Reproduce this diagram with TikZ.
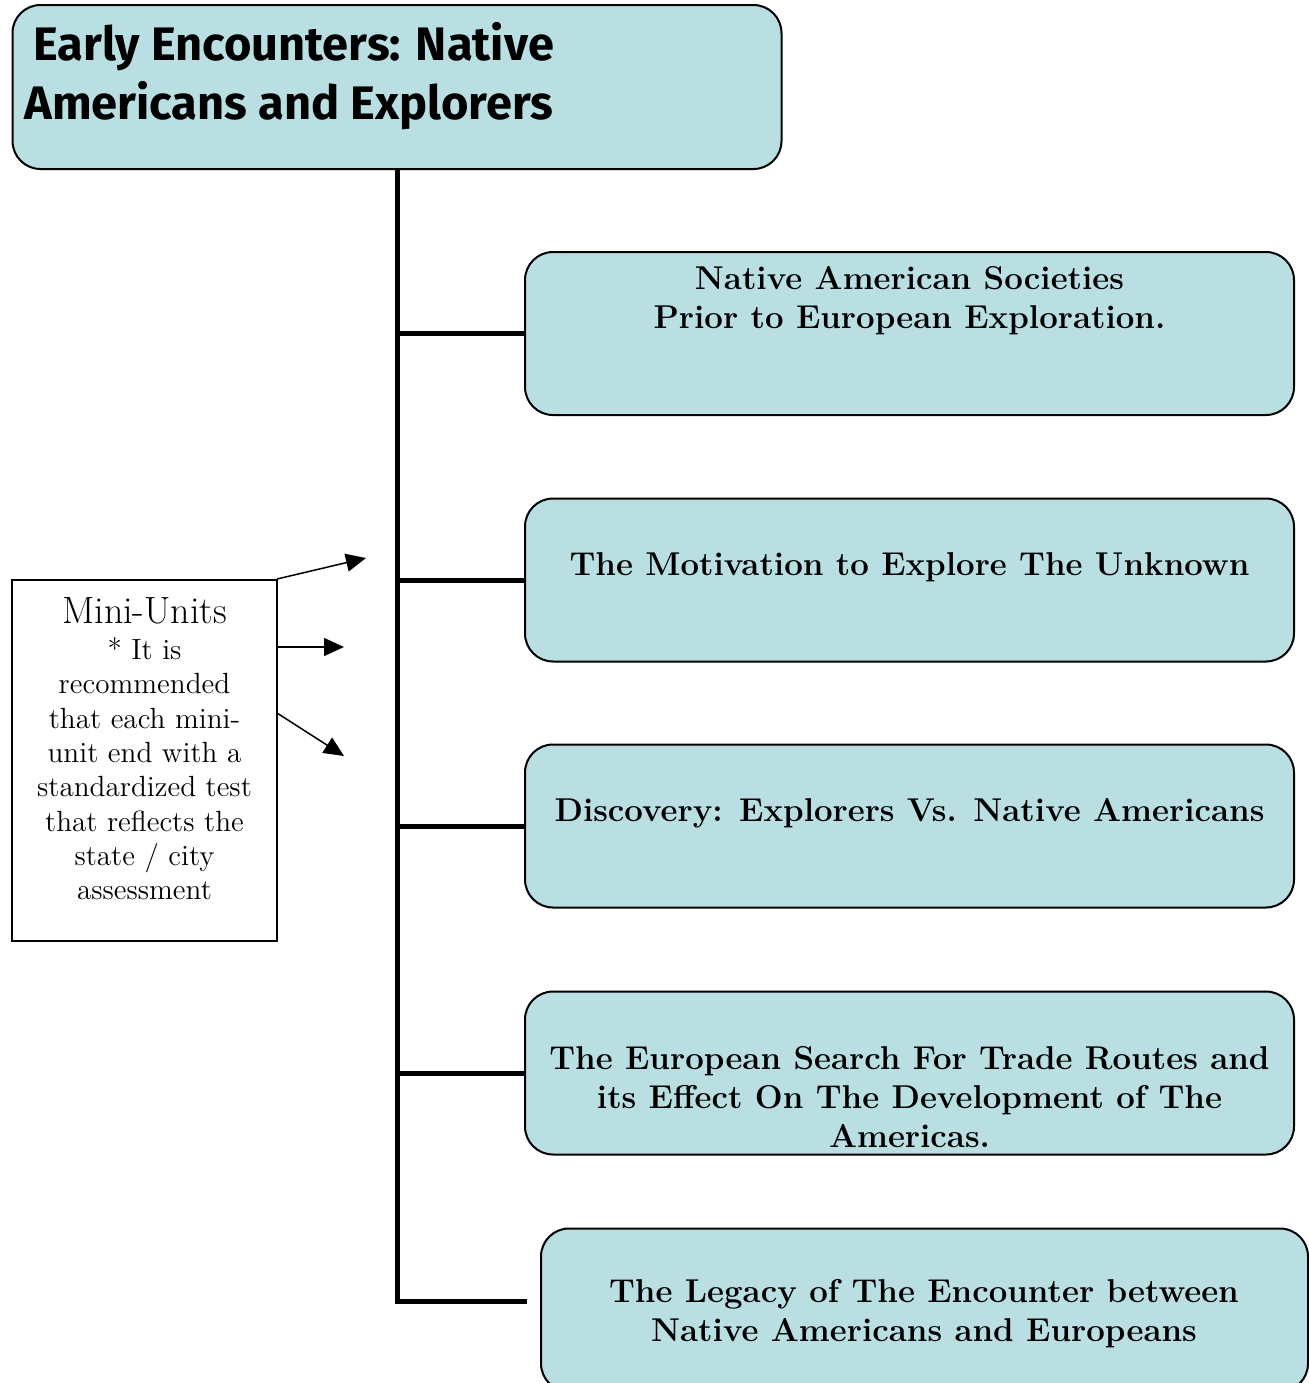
\documentclass[tikz,border=0pt]{standalone}
\usepackage{fontspec}
\newfontfamily\titlefont{Fira Sans}
\usetikzlibrary{arrows.meta,calc}
\definecolor{boxfill}{RGB}{185,223,227}
\begin{document}
\begin{tikzpicture}[x=0.5pt,y=-0.5pt,
  topic/.style={draw=black, line width=1pt, fill=boxfill, rounded corners=14pt,
    minimum width=384.5pt, minimum height=81.5pt, inner sep=0pt},
  topictext/.style={align=center, inner sep=0pt,
    font=\bfseries\fontsize{16.5}{19.5}\selectfont},
  titletext/.style={anchor=west, inner sep=0pt,
    font=\titlefont\bfseries\fontsize{23.5}{28}\selectfont},
  trunk/.style={line width=2.5pt},
  pointer/.style={line width=0.75pt, -{Triangle[length=10pt,width=9pt]}}]
\useasboundingbox (0,0) rectangle (1309,1383);
\clip (0,0) rectangle (1309,1383);
% title
\node[topic, minimum width=384.5pt, minimum height=82pt] (title) at (397,87) {};
\node[titletext] (t1) at (33,47) {Early Encounters: Native};
\node[titletext] (t2) at (24,106) {Americans and Explorers};
% topic boxes
\node[topic] (b1) at (909.5,333.5) {};
\node[topic] (b2) at (909.5,580) {};
\node[topic] (b3) at (909.5,826) {};
\node[topic] (b4) at (909.5,1073) {};
\node[topic, minimum width=383.5pt] (b5) at (924.5,1310) {};
\node[topictext] (l1) at (909.5,301) {Native American Societies\\Prior to European Exploration.};
\node[topictext] (l2) at (909.5,567) {The Motivation to Explore The Unknown};
\node[topictext] (l3) at (909.5,813) {Discovery: Explorers Vs. Native Americans};
\node[topictext] (l4) at (909.5,1097) {The European Search For Trade Routes and\\its Effect On The Development of The\\Americas.};
\node[topictext] (l5) at (924,1314) {The Legacy of The Encounter between\\Native Americans and Europeans};
% trunk and branches
\coordinate (j5) at (397,1301);
\coordinate (e5) at (527,1301);
\draw[trunk] (title.south) -- (j5) -- (e5);
\draw[trunk] (b1.west -| title.south) -- (b1.west);
\draw[trunk] (b2.west -| title.south) -- (b2.west);
\draw[trunk] (b3.west -| title.south) -- (b3.west);
\draw[trunk] (b4.west -| title.south) -- (b4.west);
% mini-units
\node[draw=black, line width=0.75pt, fill=white, minimum width=132.5pt, minimum height=180.5pt, inner sep=0pt] (mini) at (144.5,760.5) {};
\node[align=center, inner sep=0pt, anchor=north, font=\fontsize{14.6}{17.15}\selectfont] (minitext) at (144.5,597)
  {{\fontsize{19}{20}\selectfont Mini-Units}\\[1pt]
   * It is\\ recommended\\ that each mini-\\ unit end with a\\ standardized test\\ that reflects the\\ state / city\\ assessment};
\coordinate (s1) at (277,579);
\coordinate (s2) at (277,647);
\coordinate (s3) at (277,713);
\coordinate (f1) at (366,558);
\coordinate (f2) at (344,647);
\coordinate (f3) at (344,756);
\draw[pointer] (s1) -- (f1);
\draw[pointer] (s2) -- (f2);
\draw[pointer] (s3) -- (f3);
\end{tikzpicture}
\end{document}
